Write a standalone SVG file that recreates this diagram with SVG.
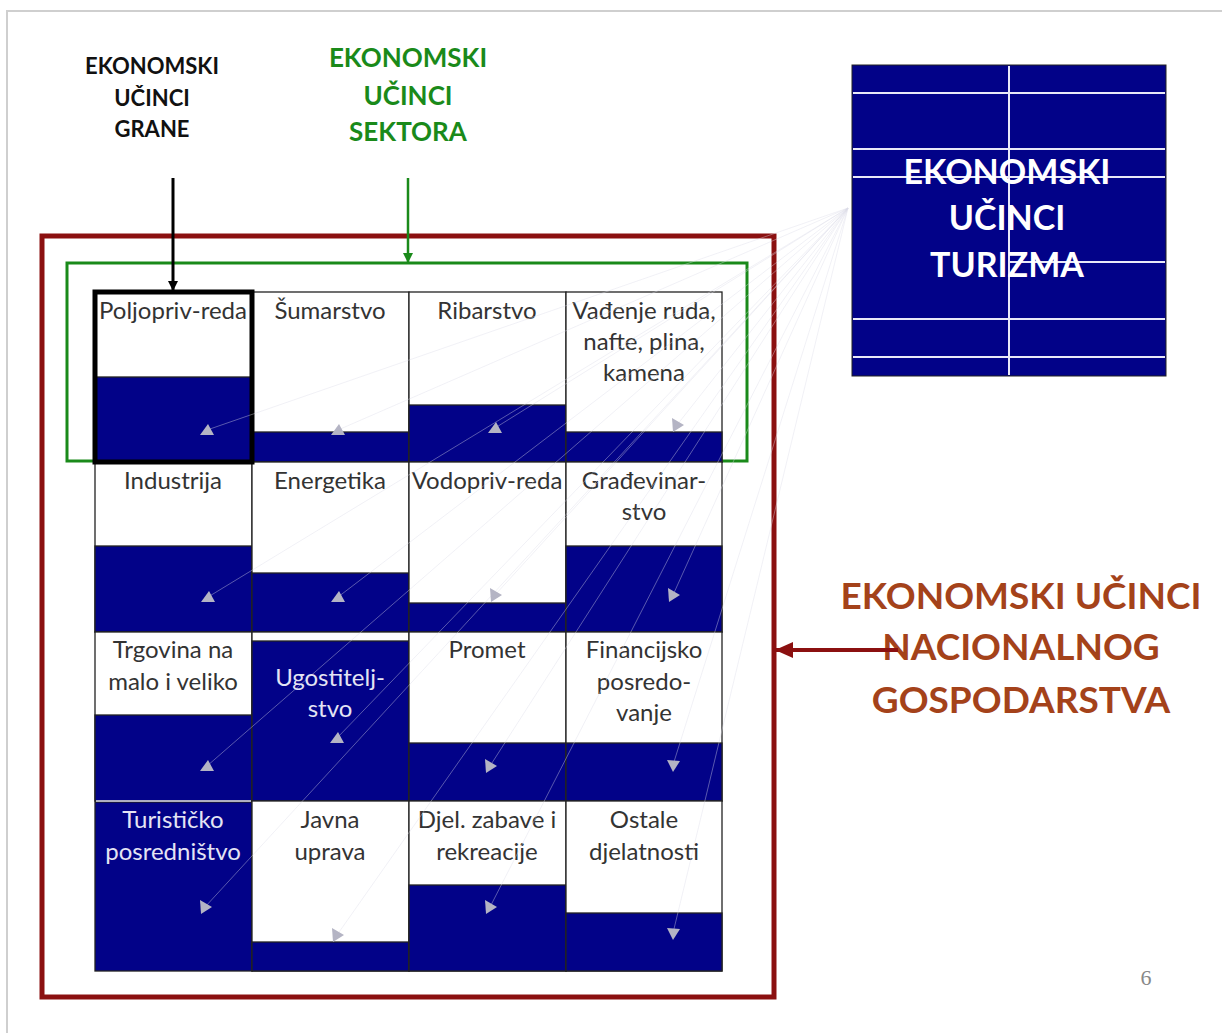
<svg xmlns="http://www.w3.org/2000/svg" width="1222" height="1033" viewBox="0 0 1222 1033">
<defs>
<style>
.cell{fill:#ffffff;stroke:#222;stroke-width:1.3}
.navy{fill:#020288;stroke:#222;stroke-width:1.3}
.ct{font-family:Lato,"Liberation Sans",sans-serif;font-size:24px;fill:#333;text-anchor:middle}
.cw{fill:#e4e4f4}
.fan{stroke:#dcdce8;stroke-opacity:0.4;stroke-width:1;fill:none}
.tri{fill:#b4b4c4}
.lbl{font-family:Lato,"Liberation Sans",sans-serif;font-weight:bold;text-anchor:middle}
</style>
<polygon id="tu" points="-7,5 7,5 1,-6"/>
<polygon id="tr" points="-5,-7 -4,7 7,0"/>
<polygon id="td" points="-6,-5 7,-4 0,7"/>
<marker id="ablk" markerWidth="10" markerHeight="10" refX="9" refY="5" orient="auto" markerUnits="userSpaceOnUse"><path d="M0,0 L10,5 L0,10 z" fill="#000"/></marker>
<marker id="agrn" markerWidth="10" markerHeight="10" refX="9" refY="5" orient="auto" markerUnits="userSpaceOnUse"><path d="M0,0 L10,5 L0,10 z" fill="#1a8a1a"/></marker>
<marker id="ared" markerWidth="18" markerHeight="16" refX="17" refY="8" orient="auto" markerUnits="userSpaceOnUse"><path d="M0,0 L18,8 L0,16 z" fill="#8b1010"/></marker>
</defs>
<rect width="1222" height="1033" fill="#fff"/>
<path d="M7,1033 V11 H1222" fill="none" stroke="#cfcfcf" stroke-width="2"/>

<g id="label-grane">
<text class="lbl" x="152" y="74" font-size="22" fill="#111">EKONOMSKI</text>
<text class="lbl" x="152" y="106" font-size="22" fill="#111">UČINCI</text>
<text class="lbl" x="152" y="137" font-size="22" fill="#111">GRANE</text>
</g>
<g id="label-sektora">
<text class="lbl" x="408" y="67" font-size="26" fill="#1a8a1a">EKONOMSKI</text>
<text class="lbl" x="408" y="105" font-size="26" fill="#1a8a1a">UČINCI</text>
<text class="lbl" x="408" y="141" font-size="26" fill="#1a8a1a">SEKTORA</text>
</g>
<g id="label-nacionalnog">
<text class="lbl" x="1021" y="609" font-size="37" fill="#a4421a">EKONOMSKI UČINCI</text>
<text class="lbl" x="1021" y="660" font-size="37" fill="#a4421a">NACIONALNOG</text>
<text class="lbl" x="1021" y="713" font-size="37" fill="#a4421a">GOSPODARSTVA</text>
</g>

<g id="turizam">
<rect x="852" y="65" width="314" height="311" fill="#020288" stroke="#222" stroke-width="1"/>
<g stroke="#e8e8f8" stroke-width="2">
<line x1="853" y1="93" x2="1165" y2="93"/>
<line x1="853" y1="149" x2="1165" y2="149"/>
<line x1="853" y1="177" x2="1165" y2="177"/>
<line x1="1009" y1="262" x2="1165" y2="262"/>
<line x1="853" y1="319" x2="1165" y2="319"/>
<line x1="853" y1="357" x2="1165" y2="357"/>
<line x1="1009" y1="66" x2="1009" y2="375"/>
</g>
<text class="lbl" x="1007" y="184" font-size="34" fill="#fff">EKONOMSKI</text>
<text class="lbl" x="1007" y="230" font-size="34" fill="#fff">UČINCI</text>
<text class="lbl" x="1007" y="277" font-size="34" fill="#fff">TURIZMA</text>
</g>

<g id="frame-nacionalno"><rect x="42" y="236" width="732" height="761" fill="none" stroke="#8b1010" stroke-width="5"/></g>
<g id="frame-sektor"><rect x="67" y="263" width="680" height="198" fill="none" stroke="#1a8a1a" stroke-width="3"/></g>

<g id="c-poljoprivreda"><rect class="cell" x="95" y="292" width="157" height="170"/><rect class="navy" x="95" y="377" width="157" height="85"/><text class="ct" x="173" y="319">Poljopriv-reda</text></g>
<g id="c-sumarstvo"><rect class="cell" x="252" y="292" width="157" height="170"/><rect class="navy" x="252" y="432" width="157" height="30"/><text class="ct" x="330" y="319">Šumarstvo</text></g>
<g id="c-ribarstvo"><rect class="cell" x="409" y="292" width="157" height="170"/><rect class="navy" x="409" y="405" width="157" height="57"/><text class="ct" x="487" y="319">Ribarstvo</text></g>
<g id="c-vadenje"><rect class="cell" x="566" y="292" width="156" height="170"/><rect class="navy" x="566" y="432" width="156" height="30"/><text class="ct" x="644" y="319">Vađenje ruda,</text><text class="ct" x="644" y="350">nafte, plina,</text><text class="ct" x="644" y="381">kamena</text></g>

<g id="c-industrija"><rect class="cell" x="95" y="462" width="157" height="170"/><rect class="navy" x="95" y="546" width="157" height="86"/><text class="ct" x="173" y="489">Industrija</text></g>
<g id="c-energetika"><rect class="cell" x="252" y="462" width="157" height="170"/><rect class="navy" x="252" y="573" width="157" height="59"/><text class="ct" x="330" y="489">Energetika</text></g>
<g id="c-vodoprivreda"><rect class="cell" x="409" y="462" width="157" height="170"/><rect class="navy" x="409" y="603" width="157" height="29"/><text class="ct" x="487" y="489">Vodopriv-reda</text></g>
<g id="c-gradevinarstvo"><rect class="cell" x="566" y="462" width="156" height="170"/><rect class="navy" x="566" y="546" width="156" height="86"/><text class="ct" x="644" y="489">Građevinar-</text><text class="ct" x="644" y="520">stvo</text></g>

<g id="c-trgovina"><rect class="cell" x="95" y="632" width="157" height="169"/><rect class="navy" x="95" y="715" width="157" height="86"/><text class="ct" x="173" y="658">Trgovina na</text><text class="ct" x="173" y="690">malo i veliko</text></g>
<g id="c-ugostiteljstvo"><rect class="cell" x="252" y="632" width="157" height="169"/><rect class="navy" x="252" y="641" width="157" height="160"/><text class="ct cw" x="330" y="686">Ugostitelj-</text><text class="ct cw" x="330" y="717">stvo</text></g>
<g id="c-promet"><rect class="cell" x="409" y="632" width="157" height="169"/><rect class="navy" x="409" y="743" width="157" height="58"/><text class="ct" x="487" y="658">Promet</text></g>
<g id="c-financijsko"><rect class="cell" x="566" y="632" width="156" height="169"/><rect class="navy" x="566" y="743" width="156" height="58"/><text class="ct" x="644" y="658">Financijsko</text><text class="ct" x="644" y="690">posredo-</text><text class="ct" x="644" y="721">vanje</text></g>

<g id="c-turisticko"><rect class="navy" x="95" y="802" width="157" height="169"/><line x1="96" y1="801" x2="251" y2="801" stroke="#dfe0f0" stroke-width="1.5"/><text class="ct cw" x="173" y="828">Turističko</text><text class="ct cw" x="173" y="860">posredništvo</text></g>
<g id="c-javna"><rect class="cell" x="252" y="801" width="157" height="170"/><rect class="navy" x="252" y="942" width="157" height="29"/><text class="ct" x="330" y="828">Javna</text><text class="ct" x="330" y="860">uprava</text></g>
<g id="c-zabava"><rect class="cell" x="409" y="801" width="157" height="170"/><rect class="navy" x="409" y="885" width="157" height="86"/><text class="ct" x="487" y="828">Djel. zabave i</text><text class="ct" x="487" y="860">rekreacije</text></g>
<g id="c-ostale"><rect class="cell" x="566" y="801" width="156" height="170"/><rect class="navy" x="566" y="913" width="156" height="58"/><text class="ct" x="644" y="828">Ostale</text><text class="ct" x="644" y="860">djelatnosti</text></g>

<g id="highlight-grana"><rect x="95" y="292" width="157" height="170" fill="none" stroke="#000" stroke-width="5"/></g>

<g id="connectors">
<g class="fan">
<line x1="848" y1="208" x2="207" y2="430"/>
<line x1="848" y1="208" x2="338" y2="430"/>
<line x1="848" y1="208" x2="495" y2="428"/>
<line x1="848" y1="208" x2="677" y2="425"/>
<line x1="848" y1="208" x2="208" y2="597"/>
<line x1="848" y1="208" x2="338" y2="597"/>
<line x1="848" y1="208" x2="495" y2="595"/>
<line x1="848" y1="208" x2="673" y2="595"/>
<line x1="848" y1="208" x2="207" y2="766"/>
<line x1="848" y1="208" x2="337" y2="738"/>
<line x1="848" y1="208" x2="490" y2="766"/>
<line x1="848" y1="208" x2="673" y2="765"/>
<line x1="848" y1="208" x2="205" y2="907"/>
<line x1="848" y1="208" x2="337" y2="935"/>
<line x1="848" y1="208" x2="490" y2="907"/>
<line x1="848" y1="208" x2="673" y2="933"/>
</g>
<g class="tri">
<use href="#tu" x="207" y="430"/>
<use href="#tu" x="338" y="430"/>
<use href="#tu" x="495" y="428"/>
<use href="#tr" x="677" y="425"/>
<use href="#tu" x="208" y="597"/>
<use href="#tu" x="338" y="597"/>
<use href="#tr" x="495" y="595"/>
<use href="#tr" x="673" y="595"/>
<use href="#tu" x="207" y="766"/>
<use href="#tu" x="337" y="738"/>
<use href="#tr" x="490" y="766"/>
<use href="#td" x="673" y="765"/>
<use href="#tr" x="205" y="907"/>
<use href="#tr" x="337" y="935"/>
<use href="#tr" x="490" y="907"/>
<use href="#td" x="673" y="933"/>
</g>
<line x1="173" y1="178" x2="173" y2="290" stroke="#000" stroke-width="3" marker-end="url(#ablk)"/>
<line x1="408" y1="178" x2="408" y2="262" stroke="#1a8a1a" stroke-width="2.5" marker-end="url(#agrn)"/>
<line x1="898" y1="650" x2="776" y2="650" stroke="#8b1010" stroke-width="4" marker-end="url(#ared)"/>
</g>

<text x="1146" y="985" font-family="'Liberation Serif',serif" font-size="22" fill="#888" text-anchor="middle">6</text>
</svg>
